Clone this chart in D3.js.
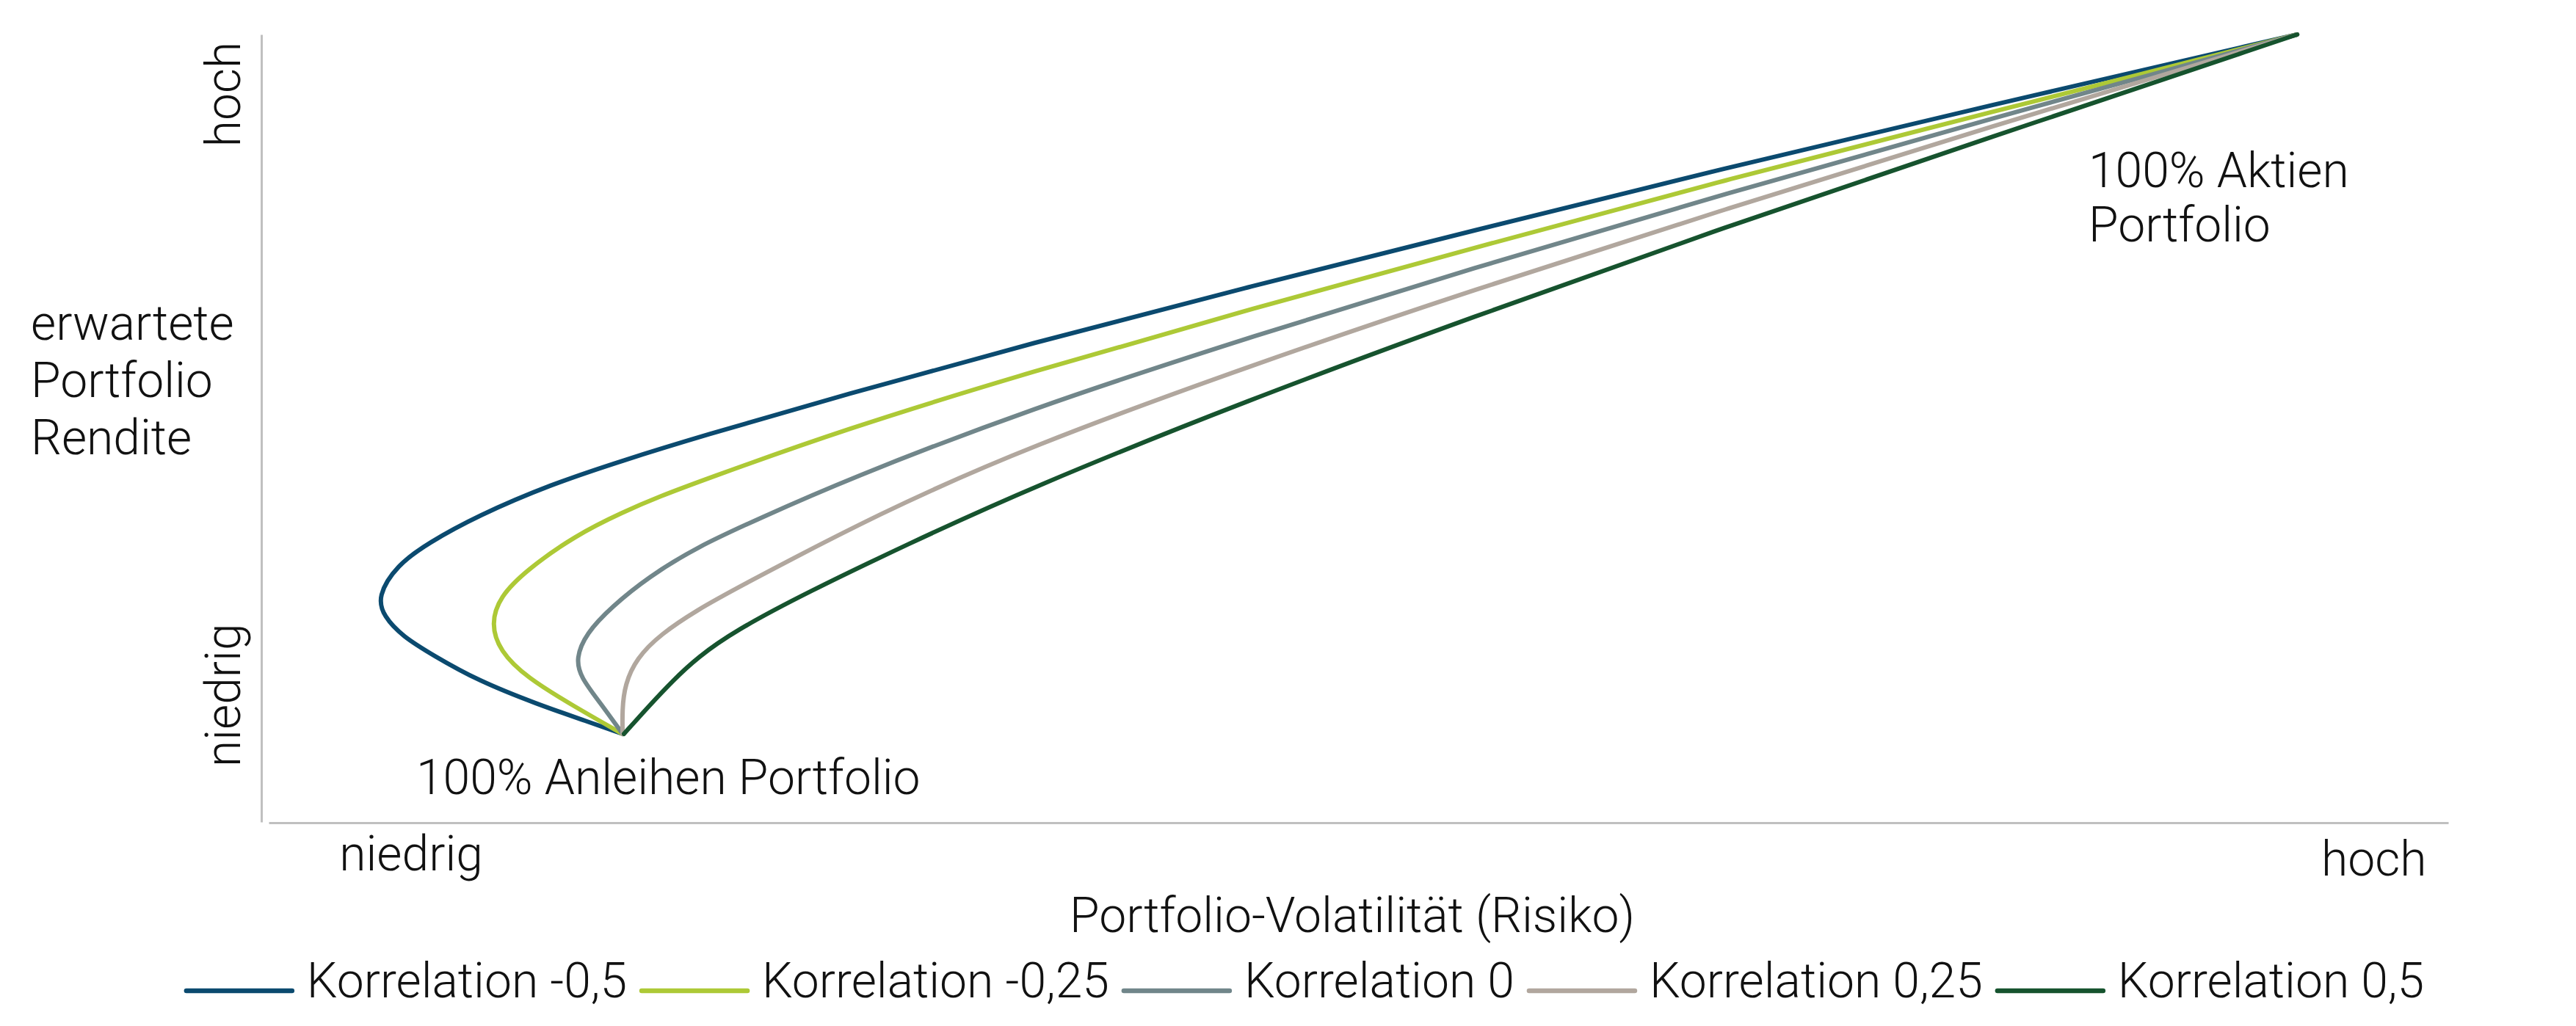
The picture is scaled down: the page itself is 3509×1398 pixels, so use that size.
<!DOCTYPE html>
<html>
<head>
<meta charset="utf-8">
<script src="https://cdn.jsdelivr.net/npm/d3@7/dist/d3.min.js"></script>
<style>
	body { margin: 0; background: #fff; }
	text { font-family: Roboto, "Open Sans", sans-serif; font-weight: 300; fill: #111; }
</style>
</head>
<body>
<div id="chart-area"></div>
<script>
// DATA (volatility, expected return) on a 0-100 scale
var seriesNames = ["Korrelation -0,5", "Korrelation -0,25", "Korrelation 0", "Korrelation 0,25", "Korrelation 0,5"];
var seriesColors = ["#0b4a6f", "#adc936", "#71868a", "#b1a79e", "#16532e"];

var corrMinus050 = [[16.52, 11.18], [14.9, 12.77], [12.66, 14.91], [9.87, 17.99], [7.86, 21.16], [6.45, 23.58],
	[5.6, 26.1], [5.3, 28.61], [6.2, 32.62], [7.62, 35.41], [9.87, 38.86], [13.23, 42.87], [16.58, 45.95],
	[19.94, 48.84], [26.65, 54.24], [35.05, 60.67], [45.12, 67.94], [55.19, 74.93], [66.94, 83.04], [78.68, 90.77],
	[93.09, 100]];
var corrMinus025 = [[16.52, 11.18], [14.33, 14.63], [12.12, 18.36], [10.9, 21.71], [10.5, 25.16], [10.9, 28.61],
	[12.12, 31.97], [14.33, 36.35], [16.58, 39.42], [18.26, 41.38], [19.94, 43.15], [26.65, 49.86], [35.05, 57.04],
	[45.12, 65.05], [55.19, 72.69], [66.94, 81.55], [78.68, 89.84], [93.09, 100]];
var corrZero = [[16.52, 11.18], [15.48, 15.19], [14.6, 18.36], [14.38, 20.78], [14.85, 23.95], [16.01, 27.31],
	[17.69, 31.1], [19.94, 34.95], [22.73, 38.49], [26.65, 43.34], [35.05, 52.38], [45.12, 61.51], [55.19, 70.18],
	[66.94, 79.78], [78.68, 89.0], [93.09, 100]];
var corrPlus025 = [[16.52, 11.18], [16.5, 14.26], [16.62, 17.43], [17.15, 20.78], [18.26, 23.86], [19.94, 26.93],
	[21.62, 29.54], [28.33, 39.33], [35.05, 47.62], [45.12, 57.87], [55.19, 67.38], [66.94, 77.82], [78.68, 87.98],
	[93.09, 100]];
var corrPlus050 = [[16.58, 11.18], [17.69, 14.63], [18.83, 17.99], [19.94, 20.88], [21.62, 24.23], [24.97, 29.17],
	[29.44, 35.13], [35.05, 42.31], [45.12, 53.59], [55.19, 63.93], [66.94, 75.58], [78.68, 86.58], [93.09, 100]];

var allSeries = [corrMinus050, corrMinus025, corrZero, corrPlus025, corrPlus050];

var yAxisLabelLines = ["erwartete", "Portfolio", "Rendite"];
var lowHighLabels = ["niedrig", "hoch"];

window.onload = () => {
	var width = 3509;
	var height = 1398;

	var svg = d3.select('#chart-area')
		.append('svg')
		.attr("width", width)
		.attr("height", height);

	// SCALES
	var x = d3.scaleLinear()
		.domain([0, 100])
		.range([356, 3335]);
	var y = d3.scaleLinear()
		.domain([0, 100])
		.range([1120, 47]);

	// AXES (only the lines, no ticks)
	var yAxisCall = d3.axisLeft(y).tickValues([]).tickSizeOuter(0);
	svg.append("g")
		.attr("class", "y-axis")
		.attr("transform", "translate(" + x(0) + ", 0)")
		.call(yAxisCall);
	var xAxisCall = d3.axisBottom(x.copy().range([366, 3335])).tickValues([]).tickSizeOuter(0);
	svg.append("g")
		.attr("class", "x-axis")
		.attr("transform", "translate(0, " + (y(0) + 1) + ")")
		.call(xAxisCall);
	svg.selectAll(".domain")
		.attr("stroke", "#c0c0c0")
		.attr("stroke-width", 3);

	// LABELS
	var fontSize = "66px";
	svg.append("text")
		.attr("transform", "translate(327, " + y(92.4) + ") rotate(-90)")
		.attr("text-anchor", "middle")
		.attr("font-size", fontSize)
		.text(lowHighLabels[1]);
	svg.append("text")
		.attr("transform", "translate(327, " + y(16.1) + ") rotate(-90)")
		.attr("text-anchor", "middle")
		.attr("font-size", fontSize)
		.text(lowHighLabels[0]);

	yAxisLabelLines.forEach((line, i) => {
		svg.append("text")
			.attr("x", 42)
			.attr("y", 463 + i * 78)
			.attr("font-size", fontSize)
			.text(line);
	});

	svg.append("text")
		.attr("x", x(6.85))
		.attr("y", 1186)
		.attr("text-anchor", "middle")
		.attr("font-size", fontSize)
		.text(lowHighLabels[0]);
	svg.append("text")
		.attr("x", x(96.6))
		.attr("y", 1193)
		.attr("text-anchor", "middle")
		.attr("font-size", fontSize)
		.text(lowHighLabels[1]);
	svg.append("text")
		.attr("x", 1842)
		.attr("y", 1270)
		.attr("text-anchor", "middle")
		.attr("font-size", fontSize)
		.text("Portfolio-Volatilität (Risiko)");

	// Annotations
	svg.append("text")
		.attr("x", 567)
		.attr("y", 1082)
		.attr("font-size", fontSize)
		.text("100% Anleihen Portfolio");
	svg.append("text")
		.attr("x", 2845)
		.attr("y", 255)
		.attr("font-size", fontSize)
		.text("100% Aktien");
	svg.append("text")
		.attr("x", 2845)
		.attr("y", 329)
		.attr("font-size", fontSize)
		.text("Portfolio");

	// LINES
	var line = d3.line()
		.x(d => x(d[0]))
		.y(d => y(d[1]))
		.curve(d3.curveBasis);

	svg.selectAll(".frontier")
		.data(allSeries)
		.enter()
		.append("path")
		.attr("class", "frontier")
		.attr("fill", "none")
		.attr("stroke", (d, i) => seriesColors[i])
		.attr("stroke-width", 6)
		.attr("stroke-linecap", "round")
		.attr("stroke-linejoin", "round")
		.attr("d", line);

	// LEGEND
	var legend = svg.append("g");
	var cursor = 0;
	seriesNames.forEach((name, i) => {
		var row = legend.append("g")
			.attr("transform", `translate(${cursor}, 0)`);
		row.append("line")
			.attr("x1", 2)
			.attr("x2", 146)
			.attr("y1", -9)
			.attr("y2", -9)
			.attr("stroke", seriesColors[i])
			.attr("stroke-width", 6.5)
			.attr("stroke-linecap", "round");
		var label = row.append("text")
			.attr("x", 166)
			.attr("font-size", fontSize)
			.text(name);
		cursor += 166 + label.node().getComputedTextLength() + 18;
	});
	var legendWidth = cursor - 18;
	legend.attr("transform", `translate(${1777 - legendWidth / 2}, 1359)`);
};
</script>
</body>
</html>
